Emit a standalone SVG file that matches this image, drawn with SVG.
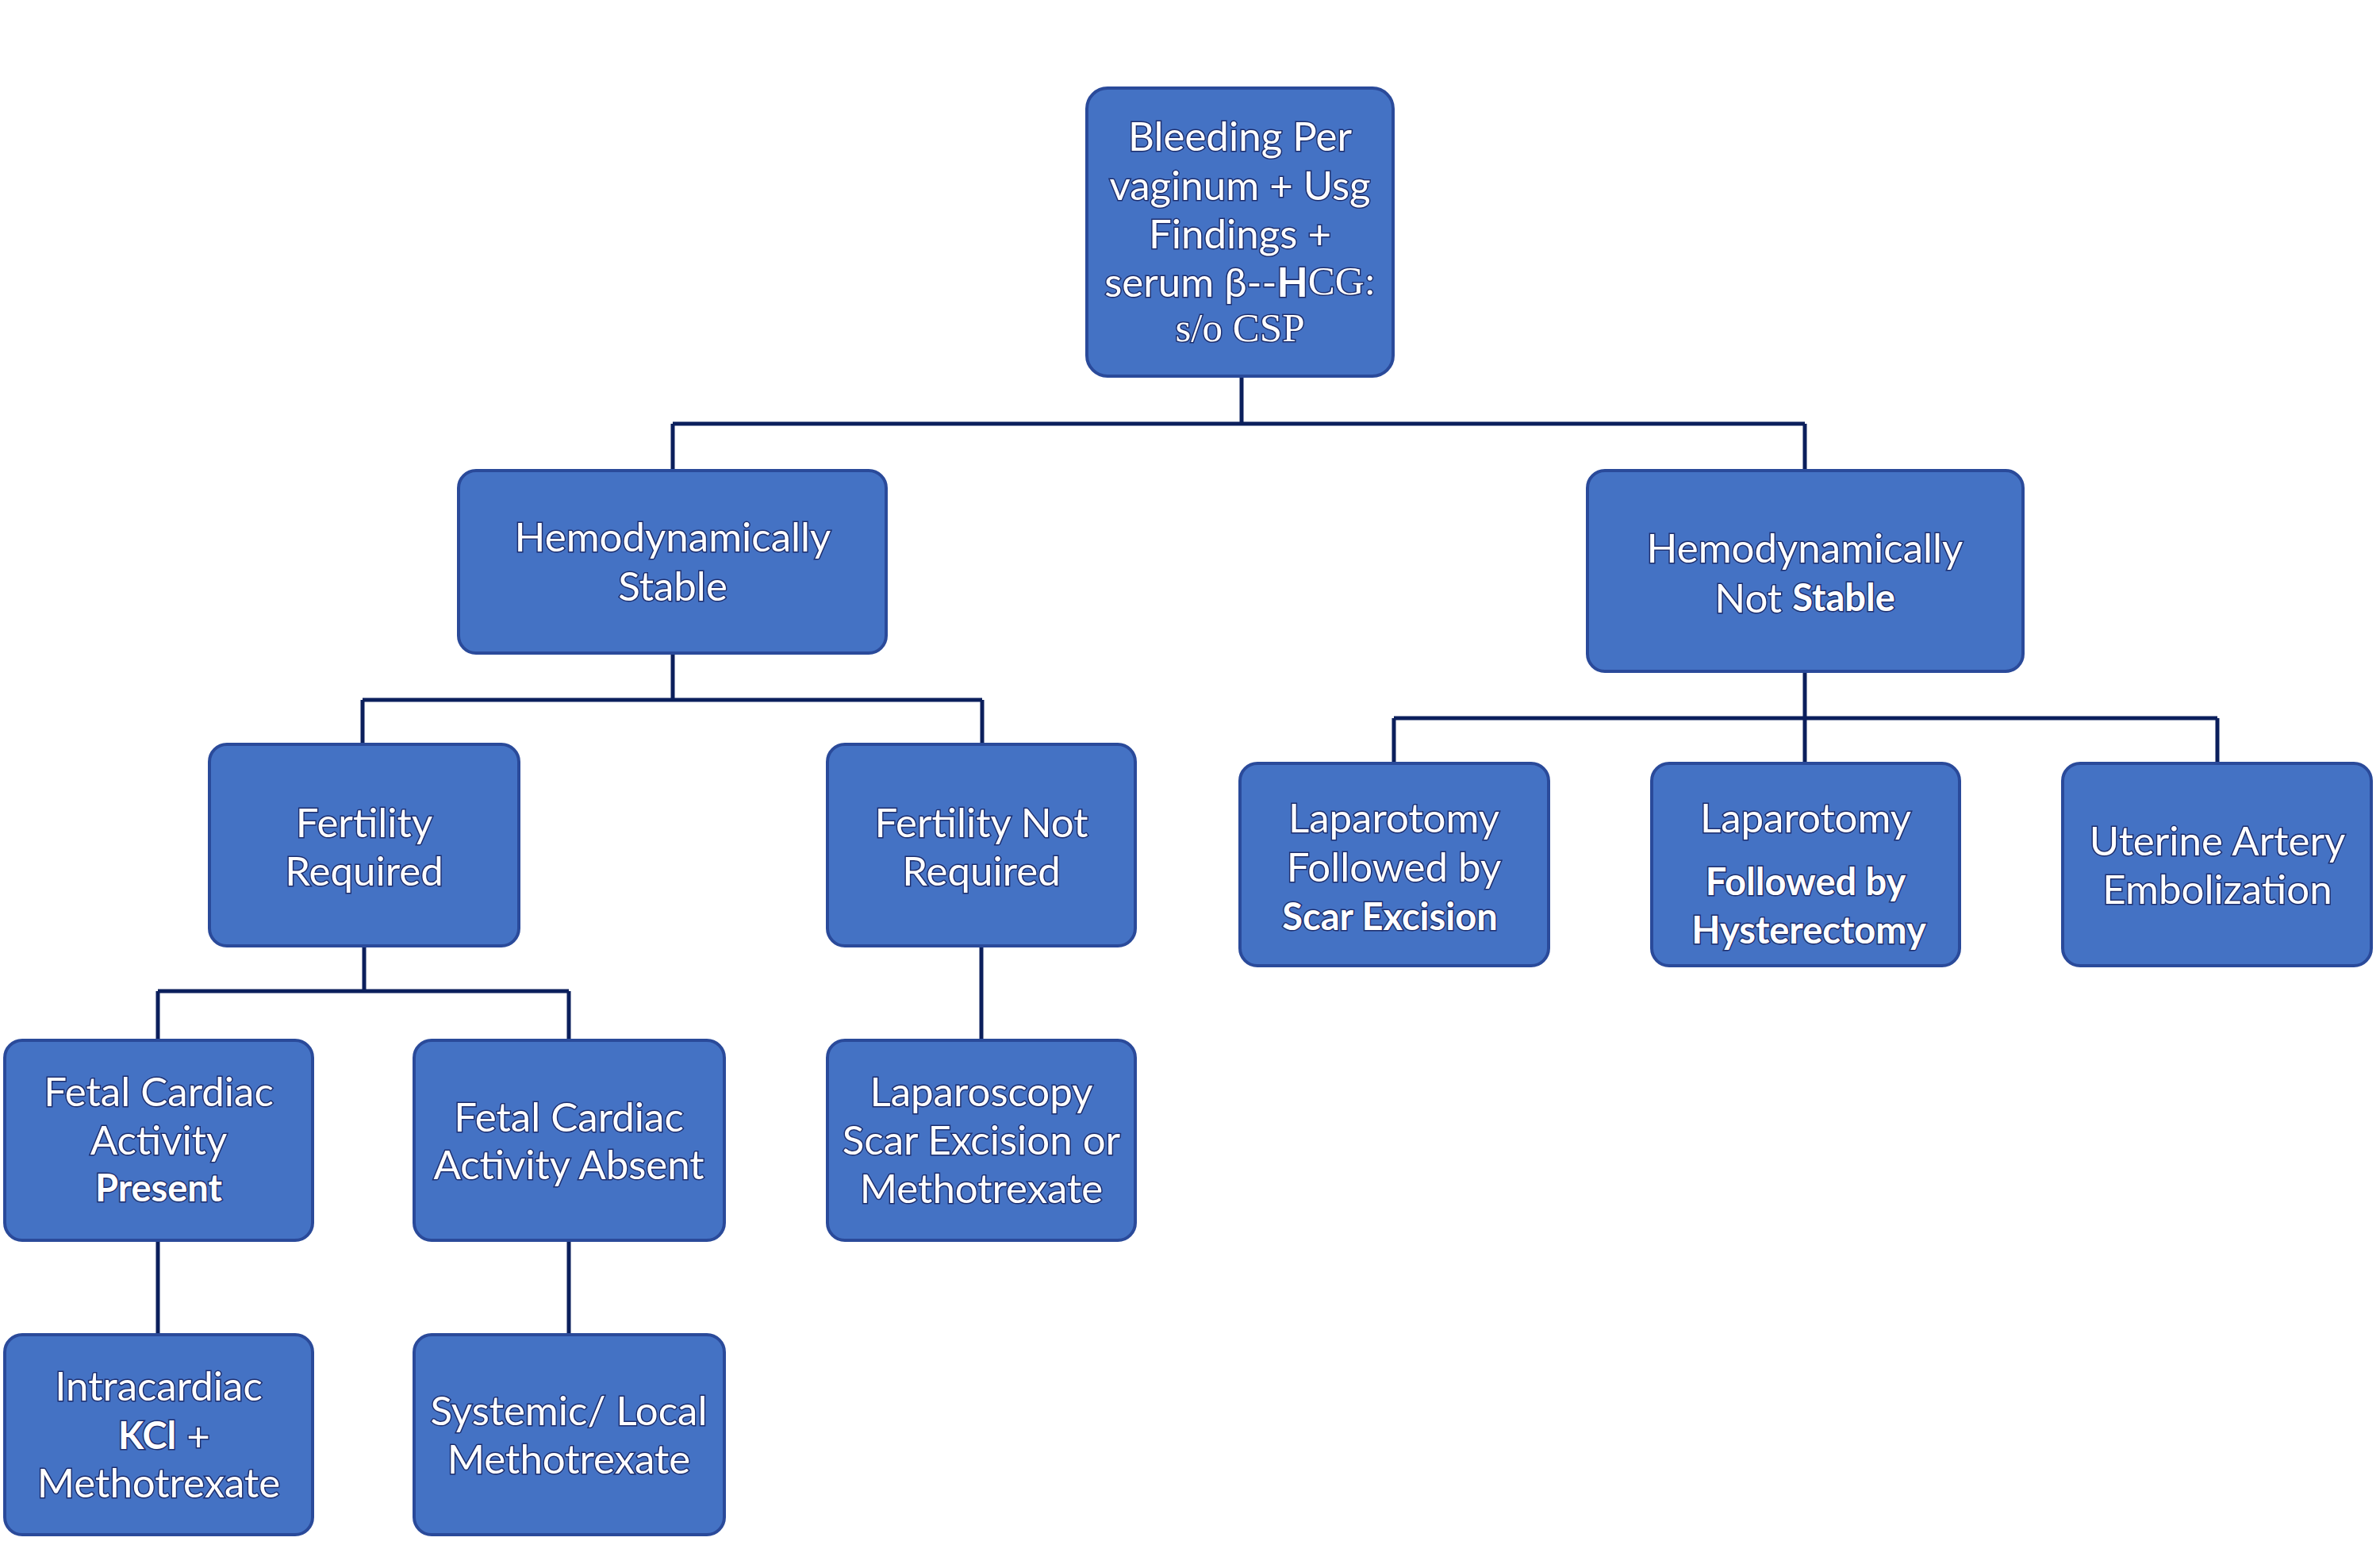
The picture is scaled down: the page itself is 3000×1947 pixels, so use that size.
<svg xmlns="http://www.w3.org/2000/svg" width="3000" height="1947" viewBox="0 0 3000 1947">
<style>
.box{fill:#4472C4;stroke:#2A4A9A;stroke-width:4}
.t{font-family:Lato,"Open Sans","Liberation Sans",sans-serif;font-size:51px;fill:#ffffff;stroke:#1E2F6E;stroke-width:3;paint-order:stroke;text-anchor:middle;dominant-baseline:central}
.b{font-weight:bold}
.bs{font-size:47px}
.s{font-family:"Liberation Serif",serif}
.c{fill:none;stroke:#0B1F5C;stroke-width:5}
</style>
<rect width="3000" height="1947" fill="#ffffff"/>
<g id="connectors">
<path class="c" d="M1565 474V534M848 534H2275M848 534V593M2275 534V593"/>
<path class="c" d="M848 823V882M457 882H1238M457 882V938M1238 882V938"/>
<path class="c" d="M459 1192V1249M199 1249H717M199 1249V1311M717 1249V1311"/>
<path class="c" d="M1237 1192V1311"/>
<path class="c" d="M199 1563V1682M717 1563V1682"/>
<path class="c" d="M2275 846V905M1757 905H2795M1757 905V962M2275 905V962M2795 905V962"/>
</g>
<g id="n-root"><rect class="box" x="1370" y="111" width="386" height="363" rx="26"/>
<text class="t" x="1563" y="170">Bleeding Per</text>
<text class="t" x="1563" y="232">vaginum + Usg</text>
<text class="t" x="1563" y="293">Findings +</text>
<text class="t" x="1563" y="354">serum β--<tspan class="b">H</tspan><tspan class="s">CG:</tspan></text>
<text class="t s" x="1563" y="413">s/o CSP</text></g>
<g id="n-stable"><rect class="box" x="578" y="593" width="539" height="230" rx="22"/>
<text class="t" x="848" y="675">Hemodynamically</text>
<text class="t" x="848" y="737">Stable</text></g>
<g id="n-notstable"><rect class="box" x="2001" y="593" width="549" height="253" rx="22"/>
<text class="t" x="2275" y="689">Hemodynamically</text>
<text class="t" x="2275" y="752">Not <tspan class="b bs">Stable</tspan></text></g>
<g id="n-fr"><rect class="box" x="264" y="938" width="390" height="254" rx="22"/>
<text class="t" x="459" y="1035">Fertility</text>
<text class="t" x="459" y="1096">Required</text></g>
<g id="n-fnr"><rect class="box" x="1043" y="938" width="388" height="254" rx="22"/>
<text class="t" x="1237" y="1035">Fertility Not</text>
<text class="t" x="1237" y="1096">Required</text></g>
<g id="n-lapscar"><rect class="box" x="1563" y="962" width="389" height="255" rx="22"/>
<text class="t" x="1757" y="1029">Laparotomy</text>
<text class="t" x="1757" y="1091">Followed by</text>
<text class="t b bs" x="1752" y="1154">Scar Excision</text></g>
<g id="n-laphyst"><rect class="box" x="2082" y="962" width="388" height="255" rx="22"/>
<text class="t" x="2276" y="1029">Laparotomy</text>
<text class="t b bs" x="2276" y="1110">Followed by</text>
<text class="t b bs" x="2280" y="1171">Hysterectomy</text></g>
<g id="n-uae"><rect class="box" x="2600" y="962" width="389" height="255" rx="22"/>
<text class="t" x="2795" y="1058">Uterine Artery</text>
<text class="t" x="2795" y="1119">Embolization</text></g>
<g id="n-fcap"><rect class="box" x="6" y="1311" width="388" height="252" rx="22"/>
<text class="t" x="200" y="1374">Fetal Cardiac</text>
<text class="t" x="200" y="1435">Activity</text>
<text class="t b bs" x="200" y="1496">Present</text></g>
<g id="n-fcaa"><rect class="box" x="522" y="1311" width="391" height="252" rx="22"/>
<text class="t" x="717" y="1406">Fetal Cardiac</text>
<text class="t" x="717" y="1466">Activity Absent</text></g>
<g id="n-lapscopy"><rect class="box" x="1043" y="1311" width="388" height="252" rx="22"/>
<text class="t" x="1237" y="1374">Laparoscopy</text>
<text class="t" x="1237" y="1435">Scar Excision or</text>
<text class="t" x="1237" y="1496">Methotrexate</text></g>
<g id="n-kcl"><rect class="box" x="6" y="1682" width="388" height="252" rx="22"/>
<text class="t" x="200" y="1745">Intracardiac</text>
<text class="t" x="207" y="1808"><tspan class="b bs">KCl</tspan> +</text>
<text class="t" x="200" y="1867">Methotrexate</text></g>
<g id="n-sys"><rect class="box" x="522" y="1682" width="391" height="252" rx="22"/>
<text class="t" x="717" y="1776">Systemic/ Local</text>
<text class="t" x="717" y="1837">Methotrexate</text></g>
</svg>
